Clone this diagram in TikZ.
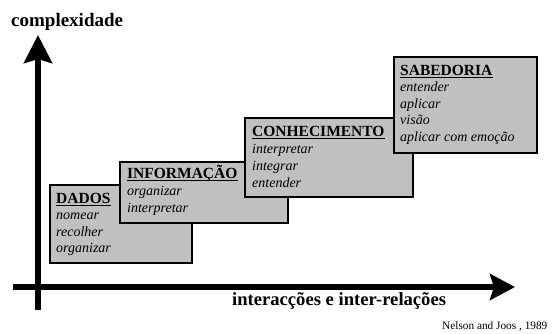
\documentclass[tikz,border=0pt]{standalone}
\usepackage{fontspec}
\setmainfont{Liberation Serif}
\usetikzlibrary{arrows.meta,calc}
\definecolor{boxgray}{RGB}{192,192,192}
\begin{document}
\begin{tikzpicture}[x=1pt,y=-1pt,
  stepbox/.style={draw=black, line width=2pt, fill=boxgray, rectangle, inner sep=0pt, anchor=north west},
  ttl/.style={anchor=base west, inner sep=0pt, font=\fontsize{15.5}{17}\selectfont\bfseries},
  itl/.style={anchor=base west, inner sep=0pt, font=\fontsize{14}{16}\selectfont\itshape},
  ulin/.style={line width=1.3pt},
  axis/.style={line width=6pt}]
\useasboundingbox (0,0) rectangle (553,333);

% axes
\coordinate (yo) at (38,310);
\coordinate (yt) at (38,35);
\coordinate (xo) at (13,287);
\coordinate (xt) at (515,287);
\draw[axis, -{Stealth[length=28pt, width=28pt, inset=4pt]}] (yo) -- (yt);
\draw[axis, -{Stealth[length=25pt, width=26pt, inset=4pt]}] (xo) -- (xt);

\node[anchor=base west, inner sep=0pt, font=\fontsize{19}{21}\selectfont\bfseries] (ylab) at (11,26) {complexidade};
\node[anchor=base west, inner sep=0pt, font=\fontsize{18.6}{20}\selectfont\bfseries] (xlab) at (232,305) {interacções e inter-relações};
\node[anchor=base west, inner sep=0pt, font=\fontsize{11.3}{13}\selectfont] (src) at (442,329) {Nelson and Joos , 1989};

% DADOS
\node[stepbox, minimum width=142, minimum height=78] (dados) at (49,184) {};
\node[ttl] (dados-t) at (56,203) {DADOS};
\draw[ulin] ($(dados-t.base west)+(0,2.5)$) -- ($(dados-t.base east)+(0,2.5)$);
\foreach \t [count=\i] in {nomear,recolher,organizar}
  \node[itl] (dados-\i) at ($(dados-t.base west)+(0,16.5*\i)$) {\t};

% INFORMACAO
\node[stepbox, minimum width=168, minimum height=61] (info) at (119,161) {};
\node[ttl] (info-t) at (127,178) {INFORMAÇÃO};
\draw[ulin] ($(info-t.base west)+(0,2.5)$) -- ($(info-t.base east)+(0,2.5)$);
\foreach \t [count=\i] in {organizar,interpretar}
  \node[itl] (info-\i) at ($(info-t.base west)+(0,17*\i)$) {\t};

% CONHECIMENTO
\node[stepbox, minimum width=168, minimum height=79] (conh) at (244,117) {};
\node[ttl] (conh-t) at (252,136) {CONHECIMENTO};
\draw[ulin] ($(conh-t.base west)+(0,2.5)$) -- ($(conh-t.base east)+(0,2.5)$);
\foreach \t [count=\i] in {interpretar,integrar,entender}
  \node[itl] (conh-\i) at ($(conh-t.base west)+(0,17*\i)$) {\t};

% SABEDORIA
\node[stepbox, minimum width=143, minimum height=96] (sab) at (393,56) {};
\node[ttl] (sab-t) at (400,75) {SABEDORIA};
\draw[ulin] ($(sab-t.base west)+(0,2.5)$) -- ($(sab-t.base east)+(0,2.5)$);
\foreach \t [count=\i] in {entender,aplicar,visão,aplicar com emoção}
  \node[itl] (sab-\i) at ($(sab-t.base west)+(0,16.5*\i)$) {\t};
\end{tikzpicture}
\end{document}
